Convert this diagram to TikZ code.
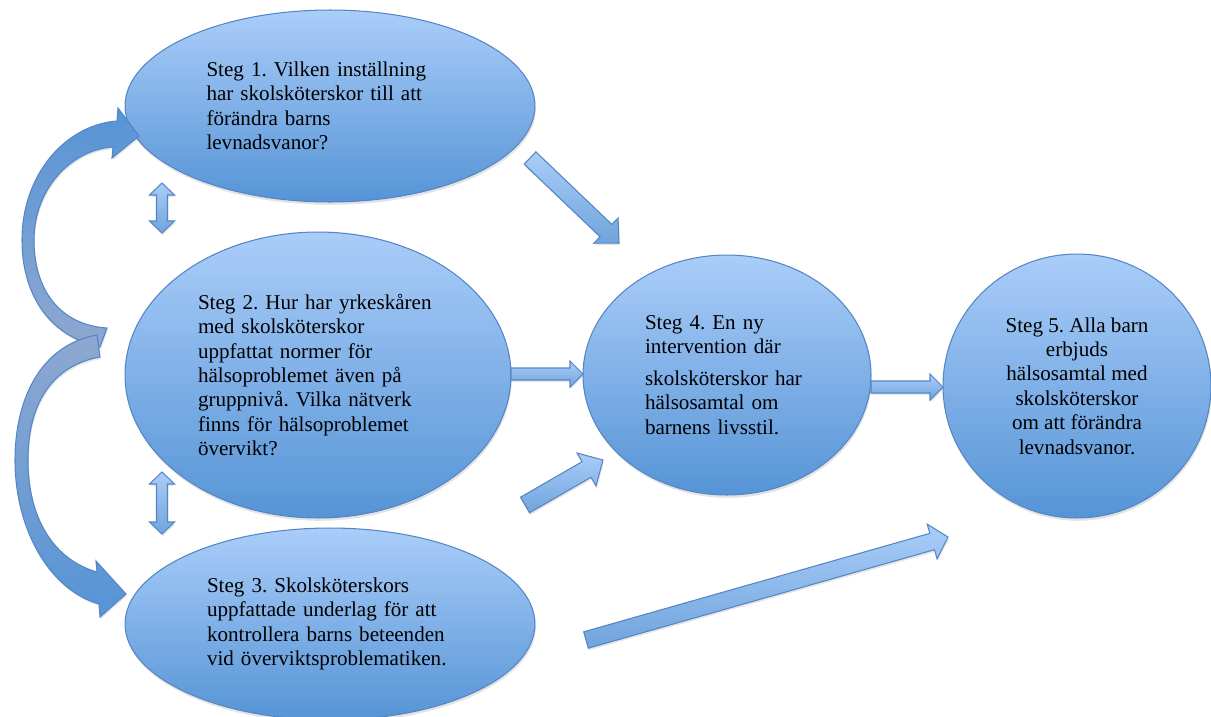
\documentclass[tikz,border=0pt]{standalone}
\usepackage{fontspec}
\setmainfont{Liberation Serif}
\usetikzlibrary{shapes.geometric,calc,shadows}

\definecolor{steglight}{RGB}{170,205,249}
\definecolor{stegdark}{RGB}{86,148,214}
\definecolor{stegline}{RGB}{84,134,198}
\definecolor{loopgrey}{RGB}{142,168,208}

\tikzset{
  steg/.style={ellipse, draw=stegline, line width=0.6pt, top color=steglight, bottom color=stegdark,
    inner sep=0pt, align=left, font=\fontsize{12}{13.9}\selectfont\frenchspacing,
    drop shadow={opacity=0.22, shadow xshift=0.5pt, shadow yshift=-1.6pt}},
  pil/.style={draw=stegline, line width=0.6pt, top color=steglight, bottom color=stegdark!85!white,
    line join=miter, drop shadow={opacity=0.2, shadow xshift=0.5pt, shadow yshift=-1.2pt}}
}

%% Block arrow: tail, tip, half shaft width, head length, half head width
\newcommand{\blockarrow}[5]{%
  \coordinate (ba-base) at ($(#2)!#4!(#1)$);
  \draw[pil] ($(#1)!#3!90:(#2)$) -- ($(ba-base)!#3!90:(#2)$) -- ($(ba-base)!#5!90:(#2)$) -- (#2)
    -- ($(ba-base)!#5!-90:(#2)$) -- ($(ba-base)!#3!-90:(#2)$) -- ($(#1)!#3!-90:(#2)$) -- cycle;
}
%% Same thing with a head at both ends
\newcommand{\twowayarrow}[5]{%
  \coordinate (ba-one) at ($(#1)!#4!(#2)$);
  \coordinate (ba-two) at ($(#2)!#4!(#1)$);
  \draw[pil] (#1) -- ($(ba-one)!#5!90:(#2)$) -- ($(ba-one)!#3!90:(#2)$) -- ($(ba-two)!#3!90:(#2)$)
    -- ($(ba-two)!#5!90:(#2)$) -- (#2) -- ($(ba-two)!#5!-90:(#2)$) -- ($(ba-two)!#3!-90:(#2)$)
    -- ($(ba-one)!#3!-90:(#2)$) -- ($(ba-one)!#5!-90:(#2)$) -- cycle;
}

\begin{document}
\begin{tikzpicture}[x=0.02cm, y=-0.02cm]
\useasboundingbox (0,0) rectangle (1211,717);

%% The five steps
\node[steg, text width=4.94cm, minimum width=8.2cm, minimum height=3.84cm] (s1) at (330,106)
  {Steg 1. Vilken inställning\\ har skolsköterskor till att\\ förändra barns\\ levnadsvanor?};
\node[steg, text width=4.8cm, minimum width=7.72cm, minimum height=5.72cm] (s2) at (318,375)
  {Steg 2. Hur har yrkeskåren\\ med skolsköterskor\\ uppfattat normer för\\ hälsoproblemet även på\\ gruppnivå. Vilka nätverk\\ finns för hälsoproblemet\\ övervikt?};
\node[steg, text width=4.92cm, minimum width=8.2cm, minimum height=3.84cm] (s3) at (330,624)
  {Steg 3. Skolsköterskors\\ uppfattade underlag för att\\ kontrollera barns beteenden\\ vid överviktsproblematiken.};
\node[steg, text width=3.28cm, minimum width=5.76cm, minimum height=4.8cm] (s4) at (727,375)
  {Steg 4. En ny\\ intervention där\\[4pt] skolsköterskor har\\ hälsosamtal om\\ barnens livsstil.};
\node[steg, align=center, minimum width=5.36cm, minimum height=5.28cm] (s5) at (1077,386)
  {Steg 5. Alla barn\\ erbjuds\\ hälsosamtal med\\ skolsköterskor\\ om att förändra\\ levnadsvanor.};

%% Ends of the straight arrows
\coordinate (a14) at ($(s1.center)+(200,52)$);
\coordinate (b14) at ($(s4.center)+(-108,-132)$);
\coordinate (a24) at ($(s2.center)+(193,-1)$);
\coordinate (b24) at ($(s4.center)+(-144,-1)$);
\coordinate (a34) at ($(s2.center)+(207,130)$);
\coordinate (b34) at ($(s4.center)+(-124,85)$);
\coordinate (a35) at ($(s3.center)+(256,16)$);
\coordinate (b35) at ($(s5.center)+(-129,151)$);
\coordinate (a45) at ($(s4.center)+(144,12)$);
\coordinate (b45) at ($(s5.center)+(-134,1)$);
\coordinate (a12) at ($(s1.center)+(-168,77)$);
\coordinate (b12) at ($(s2.center)+(-156,-142)$);
\coordinate (a23) at ($(s2.center)+(-156,97)$);
\coordinate (b23) at ($(s3.center)+(-168,-90)$);

\blockarrow{a14}{b14}{0.17cm}{0.36cm}{0.35cm}
\blockarrow{a24}{b24}{0.12cm}{0.26cm}{0.26cm}
\blockarrow{a34}{b34}{0.18cm}{0.38cm}{0.38cm}
\blockarrow{a35}{b35}{0.17cm}{0.33cm}{0.36cm}
\blockarrow{a45}{b45}{0.12cm}{0.26cm}{0.26cm}

\twowayarrow{a12}{b12}{0.11cm}{0.24cm}{0.25cm}
\twowayarrow{a23}{b23}{0.11cm}{0.24cm}{0.25cm}

%% Curved arrows on the left, up to step 1 and down to step 3
\draw[pil, top color=stegdark, bottom color=loopgrey] (100,347) .. controls (45,335) and (22,290) .. (22,240)
  .. controls (22,175) and (65,125) .. (117,121) -- (118,108) -- (139,136) -- (112,158) -- (113,147)
  .. controls (70,150) and (34,190) .. (34,240) .. controls (34,290) and (60,325) .. (107,328) -- cycle;
\draw[pil, top color=loopgrey, bottom color=stegdark] (97,335) .. controls (40,345) and (15,400) .. (15,460)
  .. controls (15,530) and (50,590) .. (99,604) -- (100,617) -- (126,594) -- (96,561) -- (97,572)
  .. controls (55,560) and (28,520) .. (28,460) .. controls (28,400) and (55,365) .. (100,357) -- cycle;

\end{tikzpicture}
\end{document}
